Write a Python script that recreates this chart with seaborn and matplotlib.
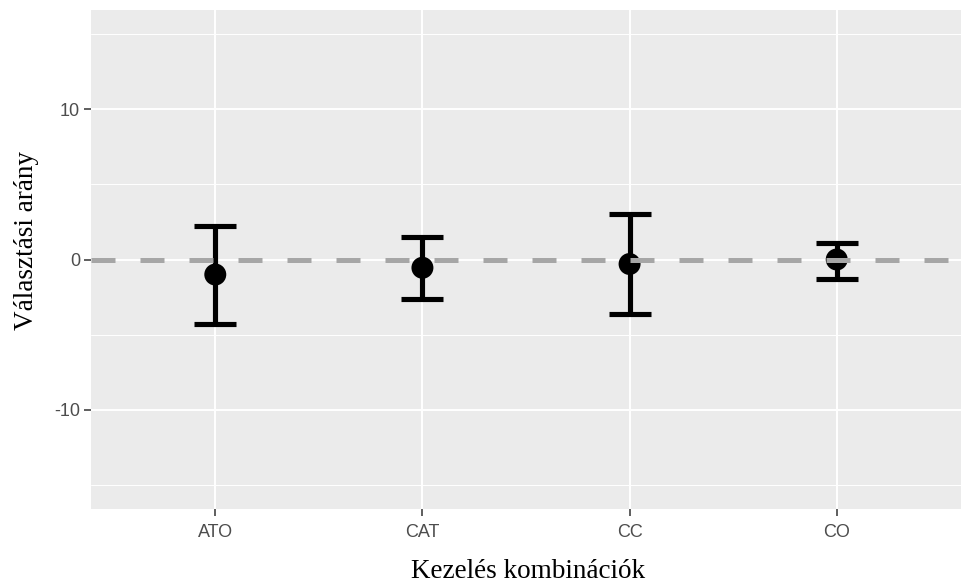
import matplotlib
matplotlib.use("Agg")
import matplotlib.pyplot as plt
import seaborn as sns
import pandas as pd
import numpy as np

categories = ["ATO", "CAT", "CC", "CO"]
means = [-1.0, -0.55, -0.3, 0.0]
upper = [2.25, 1.5, 3.05, 1.1]
lower = [-4.3, -2.6, -3.6, -1.3]

df = pd.DataFrame({"cat": categories, "mean": means, "lo": lower, "hi": upper})

sns.set_theme(style="darkgrid")
plt.rcParams["axes.unicode_minus"] = False
fig = plt.figure(figsize=(9.61, 5.85), dpi=100)
ax = fig.add_axes([91/961, (585-509)/585, (961-91)/961, (509-10)/585])
ax.set_facecolor("#EBEBEB")

x = np.arange(len(categories))
ax.errorbar(x, df["mean"], yerr=[df["mean"] - df["lo"], df["hi"] - df["mean"]],
            fmt="none", ecolor="black", elinewidth=3.7, capsize=15, capthick=3.7, zorder=3)
sns.scatterplot(data=df, x="cat", y="mean", ax=ax, color="black", s=250,
                edgecolor="none", zorder=4, legend=False)
ax.axhline(0, color="#A6A6A6", lw=3.6, linestyle=(0, (4.8, 5.0)), zorder=5)

ax.set_xlim(-0.6, len(categories) - 0.4)
ax.set_ylim(-16.6, 16.6)
ax.set_yticks([-10, 0, 10])
ax.set_yticks([-15, -5, 5, 15], minor=True)
ax.set_xticks(x)
ax.set_xticklabels(categories)
ax.grid(which="major", color="white", lw=1.4)
ax.grid(which="minor", axis="y", color="white", lw=0.7)
for s in ax.spines.values():
    s.set_visible(False)
ax.tick_params(axis="both", which="major", length=5, width=1.1, color="#333333",
               labelcolor="#4D4D4D", labelsize=13, pad=3, bottom=True, left=True)
ax.tick_params(axis="x", which="major", pad=6)
ax.tick_params(axis="y", which="minor", length=0)
for lab in ax.get_xticklabels() + ax.get_yticklabels():
    lab.set_fontfamily(["Liberation Sans", "DejaVu Sans"])
ax.set_xlabel("")
ax.set_ylabel("")
fig.text(528/961, 1 - 571/585, "Kezelés kombinációk", ha="center", va="center",
         fontsize=19.5, family=["Liberation Serif", "DejaVu Serif"], color="black")
fig.text(27/961, 1 - 240/585, "Választási arány", ha="center", va="center", rotation=90,
         fontsize=19.5, family=["Liberation Serif", "DejaVu Serif"], color="black")

fig.savefig("out.png", dpi=100, facecolor="white")
